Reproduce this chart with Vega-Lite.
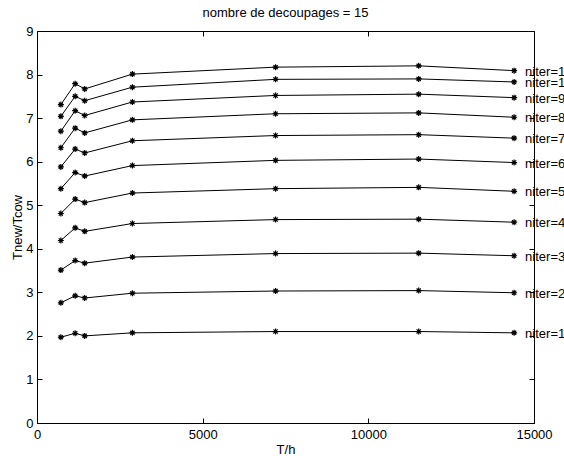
{
  "$schema": "https://vega.github.io/schema/vega-lite/v6.json",
  "width": 497,
  "height": 392,
  "autosize": {"type": "none"},
  "padding": {"left": 37, "top": 31, "right": 30, "bottom": 33},
  "background": "white",
  "title": {"text": "nombre de decoupages = 15", "fontSize": 13, "fontWeight": "normal", "font": "Liberation Sans", "color": "black", "offset": 5},
  "config": {
    "view": {"stroke": null},
    "font": "Liberation Sans",
    "axis": {"grid": false, "domainColor": "black", "tickColor": "black", "labelColor": "black", "titleColor": "black", "labelFont": "Liberation Sans", "titleFont": "Liberation Sans", "labelFontSize": 13, "titleFontSize": 13, "titleFontWeight": "normal", "domainWidth": 1, "tickWidth": 1}
  },
  "data": {"values": [
    {"T": 720, "r": 1.97, "niter": "niter=1"}, {"T": 1152, "r": 2.06, "niter": "niter=1"}, {"T": 1440, "r": 2.00, "niter": "niter=1"}, {"T": 2880, "r": 2.07, "niter": "niter=1"}, {"T": 7200, "r": 2.10, "niter": "niter=1"}, {"T": 11520, "r": 2.10, "niter": "niter=1"}, {"T": 14400, "r": 2.07, "niter": "niter=1"},
    {"T": 720, "r": 2.76, "niter": "niter=2"}, {"T": 1152, "r": 2.92, "niter": "niter=2"}, {"T": 1440, "r": 2.87, "niter": "niter=2"}, {"T": 2880, "r": 2.98, "niter": "niter=2"}, {"T": 7200, "r": 3.03, "niter": "niter=2"}, {"T": 11520, "r": 3.04, "niter": "niter=2"}, {"T": 14400, "r": 2.99, "niter": "niter=2"},
    {"T": 720, "r": 3.51, "niter": "niter=3"}, {"T": 1152, "r": 3.73, "niter": "niter=3"}, {"T": 1440, "r": 3.67, "niter": "niter=3"}, {"T": 2880, "r": 3.81, "niter": "niter=3"}, {"T": 7200, "r": 3.89, "niter": "niter=3"}, {"T": 11520, "r": 3.90, "niter": "niter=3"}, {"T": 14400, "r": 3.84, "niter": "niter=3"},
    {"T": 720, "r": 4.19, "niter": "niter=4"}, {"T": 1152, "r": 4.48, "niter": "niter=4"}, {"T": 1440, "r": 4.40, "niter": "niter=4"}, {"T": 2880, "r": 4.58, "niter": "niter=4"}, {"T": 7200, "r": 4.67, "niter": "niter=4"}, {"T": 11520, "r": 4.68, "niter": "niter=4"}, {"T": 14400, "r": 4.61, "niter": "niter=4"},
    {"T": 720, "r": 4.81, "niter": "niter=5"}, {"T": 1152, "r": 5.14, "niter": "niter=5"}, {"T": 1440, "r": 5.06, "niter": "niter=5"}, {"T": 2880, "r": 5.28, "niter": "niter=5"}, {"T": 7200, "r": 5.38, "niter": "niter=5"}, {"T": 11520, "r": 5.41, "niter": "niter=5"}, {"T": 14400, "r": 5.32, "niter": "niter=5"},
    {"T": 720, "r": 5.38, "niter": "niter=6"}, {"T": 1152, "r": 5.75, "niter": "niter=6"}, {"T": 1440, "r": 5.67, "niter": "niter=6"}, {"T": 2880, "r": 5.91, "niter": "niter=6"}, {"T": 7200, "r": 6.03, "niter": "niter=6"}, {"T": 11520, "r": 6.06, "niter": "niter=6"}, {"T": 14400, "r": 5.98, "niter": "niter=6"},
    {"T": 720, "r": 5.88, "niter": "niter=7"}, {"T": 1152, "r": 6.29, "niter": "niter=7"}, {"T": 1440, "r": 6.20, "niter": "niter=7"}, {"T": 2880, "r": 6.48, "niter": "niter=7"}, {"T": 7200, "r": 6.60, "niter": "niter=7"}, {"T": 11520, "r": 6.62, "niter": "niter=7"}, {"T": 14400, "r": 6.54, "niter": "niter=7"},
    {"T": 720, "r": 6.32, "niter": "niter=8"}, {"T": 1152, "r": 6.77, "niter": "niter=8"}, {"T": 1440, "r": 6.66, "niter": "niter=8"}, {"T": 2880, "r": 6.96, "niter": "niter=8"}, {"T": 7200, "r": 7.10, "niter": "niter=8"}, {"T": 11520, "r": 7.12, "niter": "niter=8"}, {"T": 14400, "r": 7.02, "niter": "niter=8"},
    {"T": 720, "r": 6.70, "niter": "niter=9"}, {"T": 1152, "r": 7.17, "niter": "niter=9"}, {"T": 1440, "r": 7.06, "niter": "niter=9"}, {"T": 2880, "r": 7.37, "niter": "niter=9"}, {"T": 7200, "r": 7.52, "niter": "niter=9"}, {"T": 11520, "r": 7.55, "niter": "niter=9"}, {"T": 14400, "r": 7.47, "niter": "niter=9"},
    {"T": 720, "r": 7.04, "niter": "niter=10"}, {"T": 1152, "r": 7.50, "niter": "niter=10"}, {"T": 1440, "r": 7.40, "niter": "niter=10"}, {"T": 2880, "r": 7.71, "niter": "niter=10"}, {"T": 7200, "r": 7.89, "niter": "niter=10"}, {"T": 11520, "r": 7.90, "niter": "niter=10"}, {"T": 14400, "r": 7.83, "niter": "niter=10"},
    {"T": 720, "r": 7.31, "niter": "niter=11"}, {"T": 1152, "r": 7.79, "niter": "niter=11"}, {"T": 1440, "r": 7.67, "niter": "niter=11"}, {"T": 2880, "r": 8.01, "niter": "niter=11"}, {"T": 7200, "r": 8.17, "niter": "niter=11"}, {"T": 11520, "r": 8.20, "niter": "niter=11"}, {"T": 14400, "r": 8.09, "niter": "niter=11"}
  ]},
  "resolve": {"axis": {"x": "independent", "y": "independent"}},
  "layer": [
    {
      "mark": {"type": "line", "color": "black", "strokeWidth": 1},
      "encoding": {
        "x": {"field": "T", "type": "quantitative", "scale": {"domain": [0, 15000], "nice": false}, "axis": {"orient": "bottom", "title": "T/h", "values": [0, 5000, 10000, 15000], "ticks": false, "labelPadding": 5, "titlePadding": 2, "format": "d", "labelFlush": false}},
        "y": {"field": "r", "type": "quantitative", "scale": {"domain": [0, 9], "nice": false}, "axis": {"orient": "left", "title": "Tnew/Tcow", "values": [0, 1, 2, 3, 4, 5, 6, 7, 8, 9], "ticks": false, "labelPadding": 4, "titlePadding": 1}},
        "detail": {"field": "niter"}
      }
    },
    {
      "mark": {"type": "point", "shape": "M-1,0L1,0M0,-1L0,1M-0.7,-0.7L0.7,0.7M-0.7,0.7L0.7,-0.7", "filled": false, "stroke": "black", "strokeWidth": 1.2, "size": 36, "opacity": 1},
      "encoding": {
        "x": {"field": "T", "type": "quantitative", "axis": {"orient": "bottom", "title": null, "labels": false, "values": [0, 5000, 10000, 15000], "tickSize": -5}},
        "y": {"field": "r", "type": "quantitative", "axis": {"orient": "left", "title": null, "labels": false, "values": [0, 1, 2, 3, 4, 5, 6, 7, 8, 9], "tickSize": -5}}
      }
    },
    {
      "transform": [{"filter": "datum.T == 14400"}],
      "mark": {"type": "text", "align": "left", "baseline": "middle", "dx": 11, "dy": 1, "fontSize": 13, "font": "Liberation Sans", "color": "black"},
      "encoding": {
        "x": {"field": "T", "type": "quantitative", "axis": {"orient": "top", "title": null, "labels": false, "values": [0, 5000, 10000, 15000], "tickSize": -5}},
        "y": {"field": "r", "type": "quantitative", "axis": {"orient": "right", "title": null, "labels": false, "values": [0, 1, 2, 3, 4, 5, 6, 7, 8, 9], "tickSize": -5}},
        "text": {"field": "niter"}
      }
    }
  ]
}
